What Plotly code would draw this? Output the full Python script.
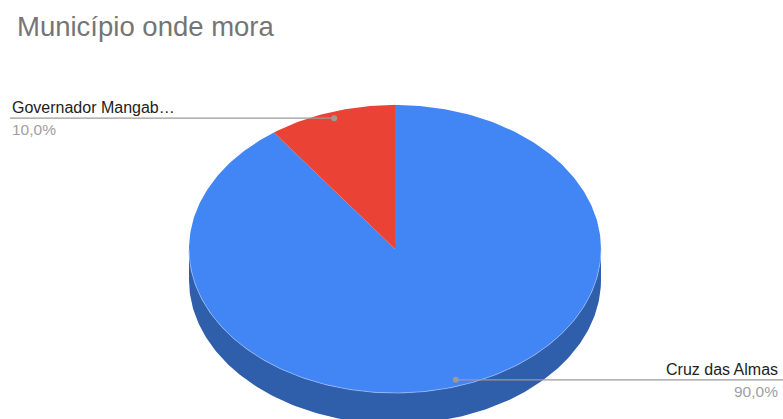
import math
import plotly.graph_objects as go

# Responses per municipality (percent of answers)
municipios = ["Cruz das Almas", "Governador Mangabeira"]
percentuais = [90.0, 10.0]
cores = ["#4285f4", "#ea4335"]
cores_lateral = ["#2f5eab", "#b2342a"]

W, H = 783, 419
CX, CY = 395, 249          # centre of the top face
RX, RY = 206, 144          # radii of the top face
DEPTH = 31                 # thickness of the disc
LABEL_R = 0.955            # radial position of the leader dots
FONTE = "Arial, Liberation Sans, sans-serif"


def pt(theta_deg, r=1.0, dy=0.0):
    """Point on the ellipse, theta measured clockwise from 12 o'clock."""
    t = math.radians(theta_deg)
    return CX + RX * r * math.sin(t), CY - RY * r * math.cos(t) + dy


def arc(a, b, dy=0.0, step=1.0):
    n = max(2, int(abs(b - a) / step) + 1)
    xs, ys = [], []
    for i in range(n):
        x, y = pt(a + (b - a) * i / (n - 1), dy=dy)
        xs.append(x)
        ys.append(y)
    return xs, ys


def rotulo(nome, limite=17):
    return nome if len(nome) <= limite else nome[:limite] + "…"


total = sum(percentuais)
fatias = []
acc = 0.0
for v in percentuais:
    ang = 360.0 * v / total
    fatias.append((acc, acc + ang))
    acc += ang

fig = go.Figure()

# Visible front wall of the disc (angles 90..270 face the viewer)
for (a, b), cor in zip(fatias, cores_lateral):
    lo, hi = max(a, 90.0), min(b, 270.0)
    if hi <= lo:
        continue
    tx, ty = arc(lo, hi)
    bx, by = arc(hi, lo, dy=DEPTH)
    fig.add_trace(go.Scatter(
        x=tx + bx + [tx[0]], y=ty + by + [ty[0]],
        fill="toself", fillcolor=cor, mode="lines",
        line=dict(width=0, color=cor), hoverinfo="skip", showlegend=False))

# Top face slices
for (a, b), cor in zip(fatias, cores):
    ax, ay = arc(a, b)
    fig.add_trace(go.Scatter(
        x=[CX] + ax + [CX], y=[CY] + ay + [CY],
        fill="toself", fillcolor=cor, mode="lines",
        line=dict(width=0, color=cor), hoverinfo="skip", showlegend=False))

# Soft highlight along the front rim
hx, hy = arc(90, 270)
fig.add_trace(go.Scatter(x=hx, y=hy, mode="lines",
                         line=dict(width=1, color="rgba(160,190,250,0.7)"),
                         hoverinfo="skip", showlegend=False))

# Leader lines, dots and labels
anotacoes = []
for (a, b), nome, v in zip(fatias, municipios, percentuais):
    mid = (a + b) / 2
    dx, dy = pt(mid, r=LABEL_R)
    esquerda = math.sin(math.radians(mid)) < 0
    x0 = 10 if esquerda else W
    fig.add_trace(go.Scatter(x=[x0, dx], y=[dy, dy], mode="lines",
                             line=dict(width=1.2, color="#9a9a9a"),
                             hoverinfo="skip", showlegend=False))
    fig.add_trace(go.Scatter(x=[dx], y=[dy], mode="markers",
                             marker=dict(size=6, color="#9a9a9a"),
                             hoverinfo="skip", showlegend=False))
    tx = 10 if esquerda else W - 3
    anchor = "left" if esquerda else "right"
    anotacoes.append(dict(x=tx, y=dy, text=rotulo(nome), showarrow=False,
                          xanchor=anchor, yanchor="bottom",
                          font=dict(size=16, color="#222222", family=FONTE)))
    anotacoes.append(dict(x=tx, y=dy + 1, text=f"{v:.1f}%".replace(".", ","),
                          showarrow=False, xanchor=anchor, yanchor="top",
                          font=dict(size=15.5, color="#a0a0a0", family=FONTE)))

anotacoes.append(dict(x=15, y=9, text="Município onde mora", showarrow=False,
                      xanchor="left", yanchor="top",
                      font=dict(size=27.5, color="#757575", family=FONTE)))

fig.update_layout(
    width=W, height=H,
    margin=dict(l=0, r=0, t=0, b=0),
    paper_bgcolor="white", plot_bgcolor="white",
    xaxis=dict(range=[0, W], visible=False, fixedrange=True),
    yaxis=dict(range=[H, 0], visible=False, fixedrange=True),
    annotations=anotacoes,
    showlegend=False,
)

fig.write_html("out.html")
